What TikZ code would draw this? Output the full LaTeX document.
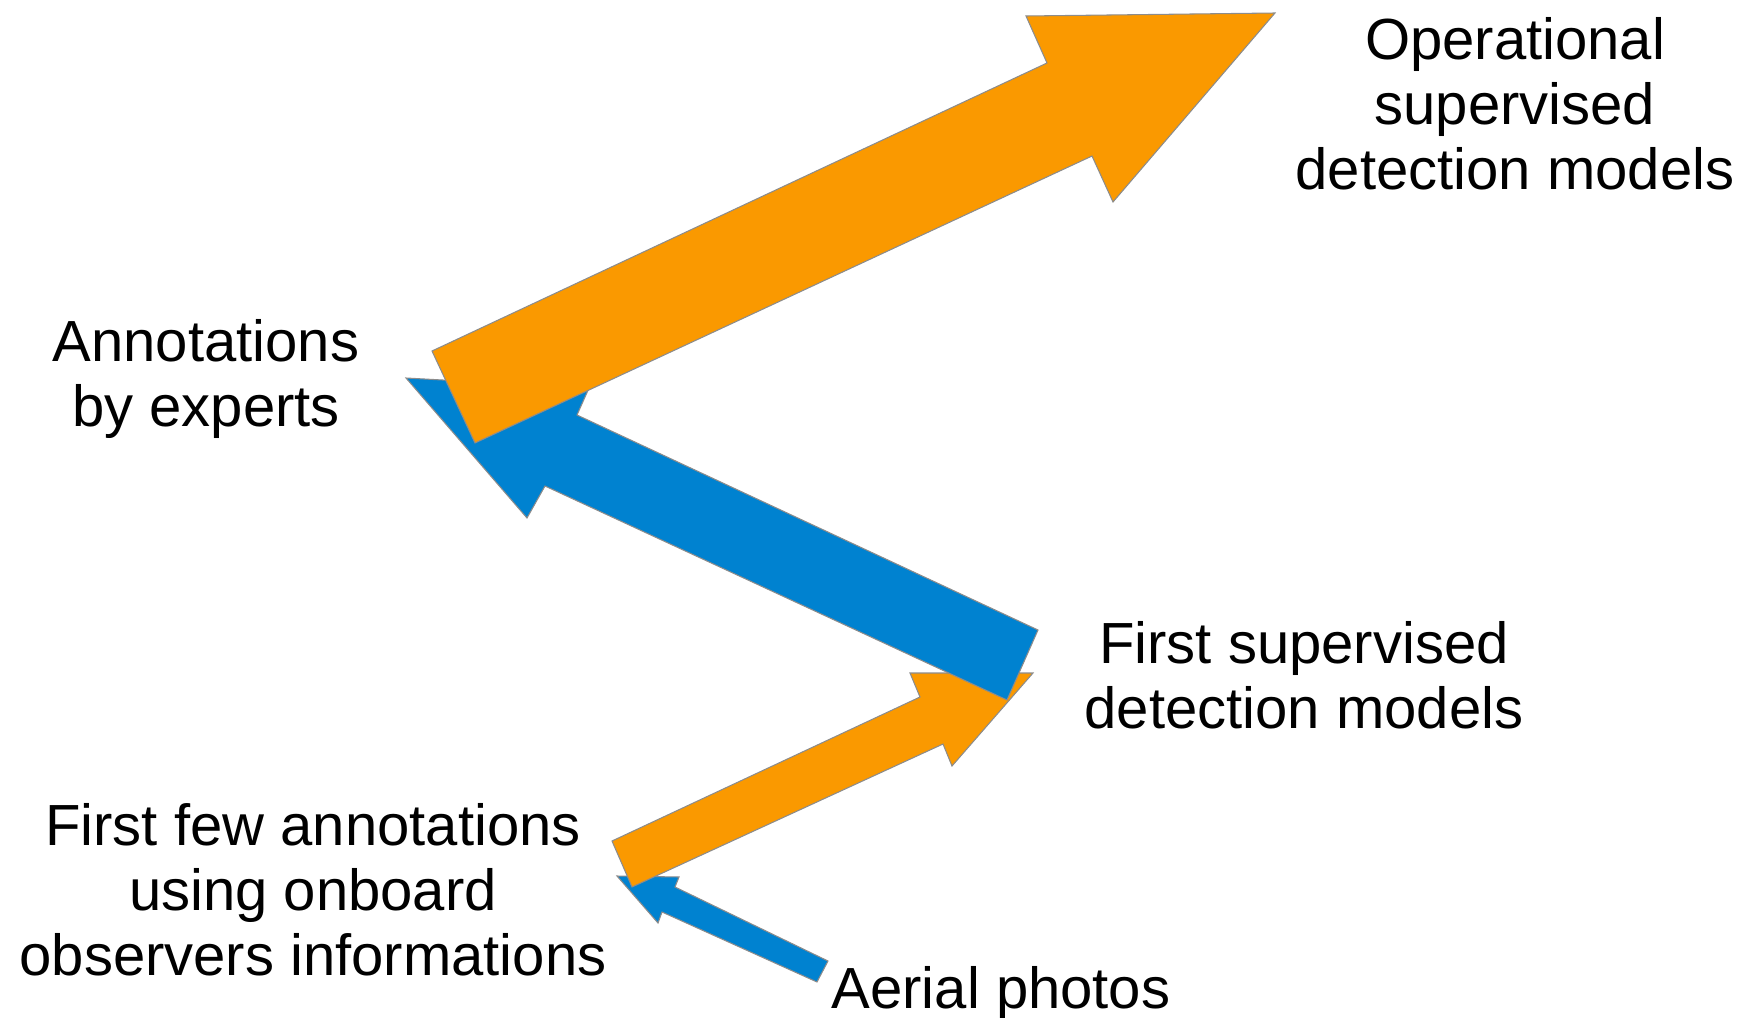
\documentclass[tikz,border=0pt]{standalone}
\usepackage{fontspec}
\setmainfont{Liberation Sans}
\usepackage{xcolor}
\usepackage{tikz}
\definecolor{orng}{RGB}{250,153,0}
\definecolor{blu}{RGB}{0,130,208}

\begin{document}
\begin{tikzpicture}[x=0.01cm,y=-0.01cm,
  t/.style={align=center,inner sep=0pt,font=\fontsize{16.5}{18.5}\selectfont},
  oa/.style={fill=orng,draw=black!45,line width=0.3pt,line join=miter},
  ba/.style={fill=blu,draw=black!45,line width=0.3pt,line join=miter}]
\useasboundingbox (0,0) rectangle (1760,1018);
% labels
\node[t] (oper) at (1515,104) {Operational\\supervised\\detection models};
\node[t] (expt) at (206,379) {Annotations\\by experts};
\node[t] (fsup) at (1304,675) {First supervised\\detection models};
\node[t] (few) at (313,890) {First few annotations\\using onboard\\observers informations};
\node[t] (aer) at (1001,993) {Aerial photos};
% photos -> first annotations
\coordinate (b1a) at (828,961); \coordinate (b1b) at (817,982);
\coordinate (b1c) at (675,887); \coordinate (b1d) at (679,877);
\coordinate (b1e) at (617,876); \coordinate (b1f) at (658,923);
\coordinate (b1g) at (662,912);
\draw[ba] (b1a) -- (b1c) -- (b1d) -- (b1e) -- (b1f) -- (b1g) -- (b1b) -- cycle;
% first annotations -> first models
\coordinate (o1a) at (612,841); \coordinate (o1b) at (632,887);
\coordinate (o1c) at (920,697); \coordinate (o1d) at (910,673);
\coordinate (o1e) at (1033,673); \coordinate (o1f) at (952,766);
\coordinate (o1g) at (943,744);
\draw[oa] (o1a) -- (o1c) -- (o1d) -- (o1e) -- (o1f) -- (o1g) -- (o1b) -- cycle;
% first models -> experts
\coordinate (b2a) at (1038,630); \coordinate (b2b) at (1007,700);
\coordinate (b2c) at (577,415); \coordinate (b2d) at (589,388);
\coordinate (b2e) at (406,378); \coordinate (b2f) at (527,518);
\coordinate (b2g) at (545,486);
\draw[ba] (b2a) -- (b2c) -- (b2d) -- (b2e) -- (b2f) -- (b2g) -- (b2b) -- cycle;
% experts -> operational models
\coordinate (o2a) at (432,351); \coordinate (o2b) at (475,443);
\coordinate (o2c) at (1047,63); \coordinate (o2d) at (1026,16);
\coordinate (o2e) at (1275,13); \coordinate (o2f) at (1113,202);
\coordinate (o2g) at (1092,156);
\draw[oa] (o2a) -- (o2c) -- (o2d) -- (o2e) -- (o2f) -- (o2g) -- (o2b) -- cycle;
\end{tikzpicture}
\end{document}
